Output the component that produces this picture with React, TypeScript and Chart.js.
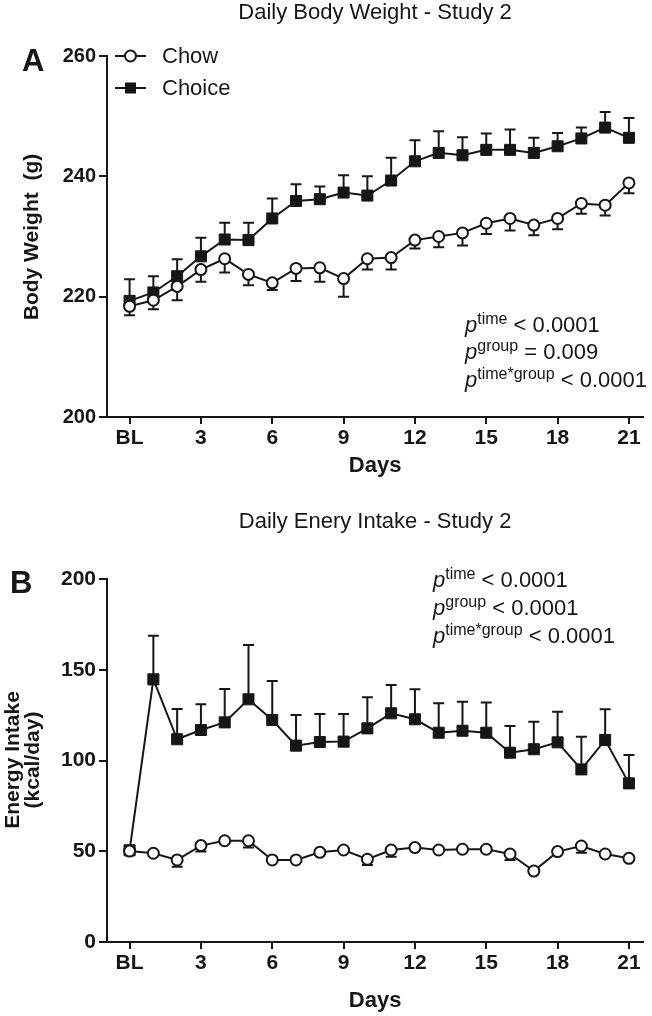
import { useEffect, useRef } from "react";
import { Chart, registerables } from "chart.js";

Chart.register(...registerables);

// ---------- data ----------
const days = [0, 1, 2, 3, 4, 5, 6, 7, 8, 9, 10, 11, 12, 13, 14, 15, 16, 17, 18, 19, 20, 21];
const xTickValues = [0, 3, 6, 9, 12, 15, 18, 21];
const xTickLabels = ["BL", "3", "6", "9", "12", "15", "18", "21"];
const seriesNames = ["Chow", "Choice"];

// Panel A: body weight (g), mean and SEM
const bwChow = [218.4, 219.4, 221.7, 224.5, 226.3, 223.7, 222.3, 224.7, 224.8, 223.0, 226.3, 226.5, 229.4, 230.0, 230.6, 232.2, 233.0, 231.9, 233.0, 235.5, 235.2, 238.9];
const bwChowErr = [1.5, 1.5, 2.3, 2.0, 2.3, 1.8, 1.2, 2.1, 2.3, 3.0, 1.8, 2.0, 1.4, 1.8, 2.1, 1.8, 2.0, 1.7, 1.8, 1.7, 1.7, 1.7];
const bwChoice = [219.3, 220.7, 223.4, 226.7, 229.5, 229.4, 233.0, 235.9, 236.2, 237.3, 236.8, 239.3, 242.5, 243.9, 243.5, 244.4, 244.4, 243.9, 245.0, 246.3, 248.1, 246.4];
const bwChoiceErr = [3.6, 2.7, 2.8, 3.1, 2.8, 2.9, 3.3, 2.8, 2.1, 2.9, 3.2, 3.8, 3.5, 3.6, 3.0, 2.7, 3.4, 2.5, 2.2, 1.8, 2.6, 3.3];
const bwYTicks = [200, 220, 240, 260];

// Panel B: energy intake (kcal/day), mean and SEM
const eiChow = [50.1, 48.9, 45.2, 53.1, 55.8, 55.8, 45.2, 45.2, 49.4, 50.7, 45.6, 50.7, 52.0, 50.7, 51.1, 51.1, 48.5, 39.1, 49.8, 52.9, 48.5, 46.1];
const eiChowErr = [0.8, 0.8, 3.7, 3.3, 1.5, 3.8, 0.8, 0.8, 0.8, 0.8, 3.2, 3.7, 0.8, 0.8, 0.8, 0.8, 3.3, 0.8, 0.8, 3.7, 0.8, 0.8];
const eiChoice = [50.5, 144.7, 111.7, 116.8, 121.0, 133.7, 122.3, 108.2, 110.2, 110.4, 117.7, 126.0, 122.7, 115.3, 116.4, 115.3, 104.3, 106.2, 110.0, 95.1, 111.3, 87.4];
const eiChoiceErr = [0, 24.1, 16.7, 14.2, 18.4, 29.9, 21.5, 16.9, 15.4, 15.2, 17.1, 15.6, 16.5, 16.2, 16.0, 16.7, 14.7, 15.2, 16.9, 18.0, 16.9, 15.6];
const eiYTicks = [0, 50, 100, 150, 200];

// Text
const titleA = "Daily Body Weight - Study 2";
const titleB = "Daily Enery Intake - Study 2";
const yTitleA = ["Body Weight  (g)"];
const yTitleB = ["Energy Intake", "(kcal/day)"];
const xTitle = "Days";
const statsA = [
  { sup: "time", rest: " < 0.0001" },
  { sup: "group", rest: " = 0.009" },
  { sup: "time*group", rest: " < 0.0001" },
];
const statsB = [
  { sup: "time", rest: " < 0.0001" },
  { sup: "group", rest: " < 0.0001" },
  { sup: "time*group", rest: " < 0.0001" },
];

// ---------- styling ----------
const FONT = '"Liberation Sans", Arial, Helvetica, sans-serif';
const INK = "#161616";
const W = 652;
const H = 508;

type Panel = {
  letter: string;
  letterX: number;
  letterY: number;
  title: string;
  titleY: number;
  yTitle: string[];
  yTitleX: number[];
  yTitleCY: number;
  daysY: number;
  top: number;
  bottom: number;
  yMin: number;
  yMax: number;
  yTicks: number[];
  yTickSize: number;
  chow: number[];
  chowErr: number[];
  choice: number[];
  choiceErr: number[];
  stats: { sup: string; rest: string }[];
  statsX: number;
  statsY: number[];
  legend: boolean;
};

const panelA: Panel = {
  letter: "A",
  letterX: 22,
  letterY: 71,
  title: titleA,
  titleY: 19,
  yTitle: yTitleA,
  yTitleX: [32],
  yTitleCY: 237,
  daysY: 472,
  top: 56,
  bottom: 417,
  yMin: 200,
  yMax: 260,
  yTicks: bwYTicks,
  yTickSize: 20,
  chow: bwChow,
  chowErr: bwChowErr,
  choice: bwChoice,
  choiceErr: bwChoiceErr,
  stats: statsA,
  statsX: 465,
  statsY: [332, 359, 387],
  legend: true,
};

const panelB: Panel = {
  letter: "B",
  letterX: 10,
  letterY: 85,
  title: titleB,
  titleY: 20,
  yTitle: yTitleB,
  yTitleX: [13.5, 33],
  yTitleCY: 252,
  daysY: 499,
  top: 71,
  bottom: 434,
  yMin: 0,
  yMax: 200,
  yTicks: eiYTicks,
  yTickSize: 21,
  chow: eiChow,
  chowErr: eiChowErr,
  choice: eiChoice,
  choiceErr: eiChoiceErr,
  stats: statsB,
  statsX: 433,
  statsY: [79, 107, 135],
  legend: false,
};

const errorBarPlugin = {
  id: "errorBars",
  beforeDatasetsDraw(chart: any) {
    const ctx = chart.ctx;
    const ys = chart.scales.y;
    ctx.save();
    ctx.strokeStyle = INK;
    ctx.lineWidth = 2;
    chart.data.datasets.forEach((ds: any, i: number) => {
      const meta = chart.getDatasetMeta(i);
      ds.data.forEach((pt: any, j: number) => {
        const e = ds.errs[j];
        if (!e) return;
        const el = meta.data[j];
        const x = el.x;
        const y0 = ys.getPixelForValue(pt.y);
        const y1 = ys.getPixelForValue(pt.y + ds.errDir * e);
        ctx.beginPath();
        ctx.moveTo(x, y0);
        ctx.lineTo(x, y1);
        ctx.moveTo(x - 5.5, y1);
        ctx.lineTo(x + 5.5, y1);
        ctx.stroke();
      });
    });
    ctx.restore();
  },
};

function textPlugin(p: Panel) {
  return {
    id: "panelText",
    afterDraw(chart: any) {
      const ctx = chart.ctx;
      const ca = chart.chartArea;
      const cx = (ca.left + ca.right) / 2;
      ctx.save();
      ctx.fillStyle = INK;
      ctx.textBaseline = "alphabetic";

      // title
      ctx.font = `22px ${FONT}`;
      ctx.textAlign = "center";
      ctx.fillText(p.title, cx, p.titleY);

      // panel letter
      ctx.font = `bold 31px ${FONT}`;
      ctx.textAlign = "left";
      ctx.fillText(p.letter, p.letterX, p.letterY);

      // y title
      ctx.font = `bold 21px ${FONT}`;
      ctx.textAlign = "center";
      ctx.textBaseline = "middle";
      p.yTitle.forEach((t, i) => {
        ctx.save();
        ctx.translate(p.yTitleX[i], p.yTitleCY);
        ctx.rotate(-Math.PI / 2);
        ctx.fillText(t, 0, 0);
        ctx.restore();
      });

      // x title
      ctx.textBaseline = "alphabetic";
      ctx.font = `bold 22px ${FONT}`;
      ctx.fillText(xTitle, cx, p.daysY);

      // stats
      ctx.textAlign = "left";
      p.stats.forEach((s, i) => {
        let x = p.statsX;
        const y = p.statsY[i];
        ctx.font = `italic 22px ${FONT}`;
        ctx.fillText("p", x, y);
        x += ctx.measureText("p").width;
        ctx.font = `16px ${FONT}`;
        ctx.fillText(s.sup, x, y - 8);
        x += ctx.measureText(s.sup).width;
        ctx.font = `22px ${FONT}`;
        ctx.fillText(s.rest, x, y);
      });

      // legend
      if (p.legend) {
        const rows = [56, 88];
        rows.forEach((ry, i) => {
          ctx.strokeStyle = INK;
          ctx.lineWidth = 2;
          ctx.beginPath();
          ctx.moveTo(115, ry);
          ctx.lineTo(146, ry);
          ctx.stroke();
          if (i === 0) {
            ctx.beginPath();
            ctx.arc(130.5, ry, 5.5, 0, Math.PI * 2);
            ctx.fillStyle = "#fff";
            ctx.fill();
            ctx.stroke();
          } else {
            ctx.fillStyle = INK;
            ctx.fillRect(125, ry - 5.5, 11, 11);
          }
          ctx.fillStyle = INK;
          ctx.font = `22px ${FONT}`;
          ctx.textBaseline = "middle";
          ctx.fillText(seriesNames[i], 162, ry + 1);
          ctx.textBaseline = "alphabetic";
        });
      }
      ctx.restore();
    },
  };
}

function buildConfig(p: Panel): any {
  const chowPts = days.map((d, i) => ({ x: d, y: p.chow[i] }));
  const choicePts = days.map((d, i) => ({ x: d, y: p.choice[i] }));
  return {
    type: "line",
    data: {
      datasets: [
        {
          label: seriesNames[0],
          data: chowPts,
          errs: p.chowErr,
          errDir: -1,
          borderColor: INK,
          borderWidth: 2,
          pointStyle: "circle",
          pointRadius: 5.5,
          pointBorderWidth: 2,
          pointBackgroundColor: "#fff",
          pointBorderColor: INK,
          tension: 0,
        },
        {
          label: seriesNames[1],
          data: choicePts,
          errs: p.choiceErr,
          errDir: 1,
          borderColor: INK,
          borderWidth: 2,
          pointStyle: "rect",
          pointRadius: 7.8,
          pointBorderWidth: 1,
          pointBackgroundColor: INK,
          pointBorderColor: INK,
          tension: 0,
        },
      ],
    },
    options: {
      animation: false,
      responsive: false,
      devicePixelRatio: 1,
      layout: { padding: { top: p.top, right: 2, left: 0, bottom: 0 } },
      plugins: { legend: { display: false }, tooltip: { enabled: false }, title: { display: false } },
      scales: {
        x: {
          type: "linear",
          min: -0.95,
          max: 21.6,
          afterBuildTicks: (s: any) => {
            s.ticks = xTickValues.map((v) => ({ value: v }));
          },
          afterFit: (s: any) => {
            s.height = H - p.bottom;
          },
          ticks: {
            autoSkip: false,
            maxRotation: 0,
            padding: 2,
            color: INK,
            font: { family: FONT, size: 21, weight: "bold" },
            callback: (v: number) => {
              const k = xTickValues.indexOf(v);
              return k >= 0 ? xTickLabels[k] : "";
            },
          },
          grid: { display: true, drawOnChartArea: false, drawTicks: true, tickLength: 7, color: INK, lineWidth: 2 },
          border: { display: true, color: INK, width: 2 },
        },
        y: {
          type: "linear",
          min: p.yMin,
          max: p.yMax,
          afterBuildTicks: (s: any) => {
            s.ticks = p.yTicks.map((v) => ({ value: v }));
          },
          afterFit: (s: any) => {
            s.width = 107;
          },
          ticks: {
            padding: 3,
            color: INK,
            font: { family: FONT, size: p.yTickSize, weight: "bold" },
          },
          grid: { display: true, drawOnChartArea: false, drawTicks: true, tickLength: 8, color: INK, lineWidth: 2 },
          border: { display: true, color: INK, width: 2 },
        },
      },
    },
    plugins: [errorBarPlugin, textPlugin(p)],
  };
}

export default function App() {
  const refA = useRef<HTMLCanvasElement>(null);
  const refB = useRef<HTMLCanvasElement>(null);
  useEffect(() => {
    const a = new Chart(refA.current as HTMLCanvasElement, buildConfig(panelA));
    const b = new Chart(refB.current as HTMLCanvasElement, buildConfig(panelB));
    return () => {
      a.destroy();
      b.destroy();
    };
  }, []);
  return (
    <div style={{ position: "absolute", left: 0, top: 0, width: W, height: 2 * H, background: "#fff" }}>
      <canvas ref={refA} width={W} height={H} style={{ display: "block", width: W, height: H }} />
      <canvas ref={refB} width={W} height={H} style={{ display: "block", width: W, height: H }} />
    </div>
  );
}
